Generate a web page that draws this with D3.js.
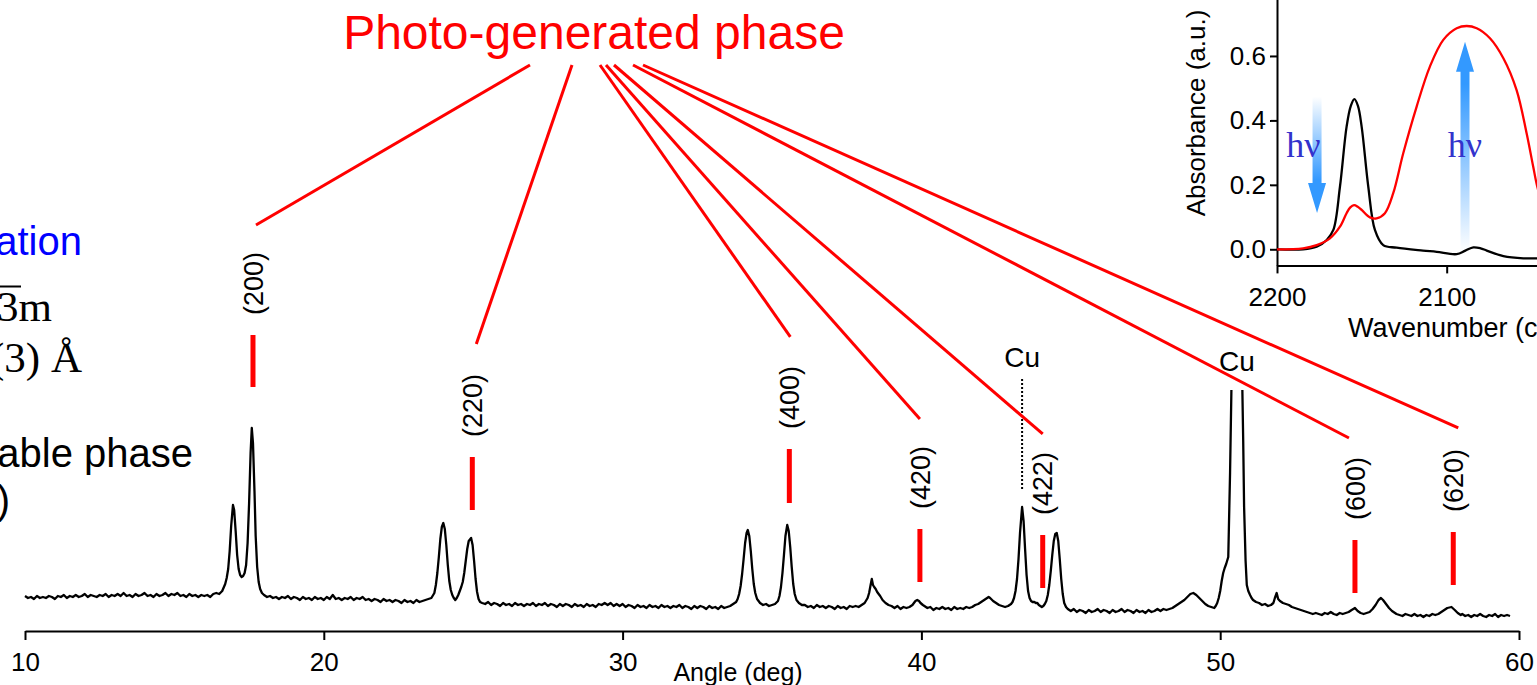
<!DOCTYPE html>
<html>
<head>
<meta charset="utf-8">
<script src="https://cdn.jsdelivr.net/npm/d3@7"></script>
<style>
  html, body { margin: 0; padding: 0; background: #fff; overflow: hidden; }
  svg { display: block; }
  text { font-family: "Liberation Sans", Arial, Helvetica, sans-serif; }
  .serif { font-family: "Liberation Serif", "Times New Roman", serif; }
</style>
</head>
<body>
<svg id="chart" width="1537" height="685"></svg>
<script>
// ---------------- XRD pattern: [2θ (deg), intensity (counts, arb.)] ----------------
const pattern = [
  [10.0,35],[10.1,33],[10.2,34],[10.3,32],[10.4,35],[10.5,33],[10.6,34],[10.7,33],[10.8,35],[10.9,34],
  [11.0,32],[11.1,35],[11.2,34],[11.3,36],[11.4,33],[11.5,35],[11.6,34],[11.7,36],[11.8,34],[11.9,35],
  [12.0,37],[12.1,34],[12.2,36],[12.3,35],[12.4,34],[12.5,36],[12.6,35],[12.7,37],[12.8,34],[12.9,36],
  [13.0,35],[13.1,37],[13.2,35],[13.3,38],[13.4,35],[13.5,36],[13.6,34],[13.7,37],[13.8,35],[13.9,36],
  [14.0,38],[14.1,35],[14.2,36],[14.3,34],[14.4,37],[14.5,35],[14.6,36],[14.7,38],[14.8,35],[14.9,37],
  [15.0,36],[15.1,38],[15.2,35],[15.3,36],[15.4,34],[15.5,37],[15.6,35],[15.7,36],[15.8,34],[15.9,36],
  [16.0,35],[16.1,36],[16.2,34],[16.3,37],[16.4,38],
  [16.5,37],[16.6,40],[16.7,47],[16.75,53],[16.8,62],[16.85,80],[16.9,105],[16.96,126],[17.0,121],
  [17.05,100],[17.1,76],[17.15,62],[17.2,56],[17.25,54],[17.3,55],[17.35,58],[17.4,66],[17.45,88],
  [17.5,128],[17.55,178],[17.59,203],[17.63,188],[17.68,140],[17.72,95],[17.77,64],[17.82,49],
  [17.87,42],[17.93,38],[18.0,36],
  [18.1,34],[18.2,35],[18.3,33],[18.4,34],[18.5,32],[18.6,34],[18.7,33],[18.8,35],[18.9,32],
  [19.0,34],[19.1,33],[19.2,31],[19.3,34],[19.4,32],[19.5,33],[19.6,31],[19.7,34],[19.8,32],[19.9,33],
  [20.0,31],[20.1,34],[20.2,32],[20.3,36],[20.4,32],[20.5,33],[20.6,31],[20.7,33],[20.8,32],[20.9,34],
  [21.0,31],[21.1,33],[21.2,32],[21.3,34],[21.4,31],[21.5,32],[21.6,30],[21.7,32],[21.8,31],[21.9,29],
  [22.0,32],[22.1,30],[22.2,31],[22.3,29],[22.4,31],[22.5,30],[22.6,28],[22.7,31],[22.8,29],[22.9,30],
  [23.0,28],[23.1,31],[23.2,29],[23.3,30],[23.4,31],[23.5,32],
  [23.6,33],[23.7,38],[23.75,46],[23.8,58],[23.85,74],[23.9,92],[23.95,104],[24.0,108],[24.05,102],
  [24.1,86],[24.15,66],[24.2,50],[24.25,41],[24.3,36],[24.35,33],[24.4,31],[24.45,33],[24.5,36],
  [24.55,40],[24.6,44],[24.65,49],[24.7,58],[24.75,70],[24.8,82],[24.85,90],[24.93,93],[24.98,86],
  [25.03,70],[25.08,52],[25.13,39],[25.18,32],[25.23,29],
  [25.3,28],[25.4,27],[25.5,29],[25.6,26],[25.7,28],[25.8,27],[25.9,25],[26.0,28],[26.1,26],[26.2,27],
  [26.3,25],[26.4,28],[26.5,26],[26.6,27],[26.7,25],[26.8,27],[26.9,26],[27.0,28],[27.1,25],[27.2,27],
  [27.3,26],[27.4,28],[27.5,25],[27.6,27],[27.7,26],[27.8,24],[27.9,27],[28.0,25],[28.1,27],[28.2,26],
  [28.3,24],[28.4,27],[28.5,25],[28.6,26],[28.7,24],[28.8,27],[28.9,25],[29.0,26],[29.1,24],[29.2,27],
  [29.3,26],[29.4,28],[29.5,26],[29.6,28],[29.7,25],[29.8,27],[29.9,25],[30.0,27],[30.1,24],[30.2,26],
  [30.3,25],[30.4,23],[30.5,26],[30.6,24],[30.7,25],[30.8,23],[30.9,26],[31.0,24],[31.1,25],[31.2,23],
  [31.3,26],[31.4,24],[31.5,25],[31.6,23],[31.7,25],[31.8,24],[31.9,26],[32.0,23],[32.1,25],[32.2,24],
  [32.3,22],[32.4,25],[32.5,23],[32.6,25],[32.7,24],[32.8,22],[32.9,25],[33.0,23],[33.1,24],[33.2,22],
  [33.3,25],[33.4,23],[33.5,24],[33.6,25],[33.7,27],
  [33.8,29],[33.85,32],[33.9,37],[33.95,45],[34.0,57],[34.05,72],[34.1,88],[34.15,98],[34.19,101],
  [34.24,95],[34.29,80],[34.34,62],[34.39,47],[34.44,38],[34.5,32],[34.6,28],[34.7,26],[34.8,27],
  [34.9,25],[35.0,26],[35.1,27],[35.2,30],[35.25,35],[35.3,44],[35.35,58],[35.4,76],[35.45,95],
  [35.51,106],[35.56,100],[35.61,84],[35.66,64],[35.71,47],[35.76,37],[35.82,31],[35.9,28],[36.0,26],
  [36.1,26],[36.2,24],[36.3,25],[36.4,23],[36.5,26],[36.6,24],[36.7,25],[36.8,23],[36.9,25],[37.0,24],
  [37.1,22],[37.2,25],[37.3,23],[37.4,24],[37.5,22],[37.6,25],[37.7,24],[37.8,25],[37.9,24],[38.0,26],
  [38.1,28],[38.2,33],[38.25,38],[38.3,46],[38.34,52],[38.38,46],[38.42,44],[38.47,42],[38.52,39],
  [38.57,37],[38.62,35],[38.7,31],[38.8,28],[38.9,26],[39.0,25],[39.1,23],[39.2,25],[39.3,22],
  [39.4,24],[39.5,23],[39.6,24],[39.7,26],[39.75,28],[39.8,30],[39.86,31],[39.92,30],[39.97,28],
  [40.05,26],[40.1,25],[40.2,23],[40.3,24],[40.4,21],[40.5,23],[40.6,22],[40.7,24],[40.8,22],
  [40.9,23],[41.0,21],[41.1,24],[41.2,22],[41.3,23],[41.4,22],[41.5,24],[41.6,23],[41.7,24],
  [41.8,26],[41.9,27],[42.0,29],[42.1,31],[42.2,33],[42.25,34],[42.3,33],[42.4,30],[42.5,28],
  [42.6,26],[42.7,25],[42.8,24],[42.9,25],[43.0,27],[43.05,29],[43.1,33],[43.15,40],[43.2,52],
  [43.25,72],[43.3,98],[43.37,124],[43.42,110],[43.47,82],[43.52,56],[43.57,40],[43.62,33],
  [43.67,30],[43.72,29],[43.78,29],[43.83,28],[43.88,28],[43.93,26],[43.98,25],[44.03,24],
  [44.08,25],[44.13,27],[44.18,30],[44.23,36],[44.28,46],[44.33,60],[44.38,76],[44.43,90],
  [44.48,97],[44.53,98],[44.58,90],[44.63,72],[44.68,52],[44.73,37],[44.78,28],[44.84,24],
  [44.9,22],[44.95,21],
  [45.0,20],[45.1,22],[45.2,19],[45.3,21],[45.4,20],[45.5,18],[45.6,21],[45.7,19],[45.8,20],[45.9,22],
  [46.0,19],[46.1,21],[46.2,20],[46.3,18],[46.4,21],[46.5,19],[46.6,20],[46.7,22],[46.8,19],[46.9,21],
  [47.0,20],[47.1,18],[47.2,21],[47.3,19],[47.4,20],[47.5,18],[47.6,21],[47.7,19],[47.8,20],[47.9,22],
  [48.0,20],[48.1,22],[48.2,21],[48.3,22],[48.4,23],[48.5,25],[48.6,27],[48.7,29],[48.8,31],[48.9,34],
  [49.0,37],[49.1,38],[49.2,36],[49.3,33],[49.4,30],[49.5,27],[49.6,25],[49.7,24],[49.8,23],
  [49.85,25],[49.9,28],[49.95,33],[50.0,40],[50.05,50],[50.1,58],[50.15,63],[50.2,67],[50.27,74],
  [50.33,158],[50.38,250],[50.45,380],[50.55,430],[50.65,380],[50.72,280],[50.77,190],[50.8,124],
  [50.85,70],[50.89,46],[50.94,40],[51.0,36],[51.05,33],[51.1,31],[51.2,29],[51.3,28],[51.4,26],
  [51.5,27],[51.6,25],[51.7,26],[51.78,28],[51.83,33],[51.89,38],[51.94,32],[52.0,30],[52.1,28],
  [52.2,27],[52.3,26],[52.4,24],[52.5,23],[52.6,22],[52.7,21],[52.8,20],[52.9,19],
  [53.0,18],[53.1,17],[53.2,18],[53.3,17],[53.4,16],[53.5,18],[53.6,17],[53.7,19],[53.8,17],[53.9,16],
  [54.0,18],[54.1,17],[54.2,18],[54.3,19],[54.4,21],[54.51,23],[54.6,20],[54.7,18],[54.8,17],
  [54.9,18],[55.0,19],[55.1,22],[55.2,26],[55.3,31],[55.38,33],[55.45,31],[55.55,27],[55.65,23],
  [55.75,20],[55.85,18],[55.9,17],[56.0,16],[56.1,15],[56.2,17],[56.3,16],[56.4,15],[56.5,17],
  [56.6,15],[56.7,16],[56.8,14],[56.9,16],[57.0,15],[57.1,17],[57.2,16],[57.3,17],[57.4,19],
  [57.5,21],[57.6,23],[57.74,24],[57.85,21],[57.95,18],[58.05,16],[58.1,17],[58.2,15],[58.3,16],
  [58.4,14],[58.5,16],[58.6,15],[58.7,17],[58.8,15],[58.9,14],[59.0,16],[59.1,15],[59.2,17],
  [59.3,14],[59.4,16],[59.5,15],[59.6,16],[59.7,15]
];

const angleTicks = [10, 20, 30, 40, 50, 60];

// Reflections of the photo-generated phase: Miller indices, 2θ, marker span (counts)
const hklLabels  = ["(200)", "(220)", "(400)", "(420)", "(422)", "(600)", "(620)"];
const hklAngles  = [17.63, 24.97, 35.58, 39.95, 44.06, 54.51, 57.80];
const hklTop     = [296, 174, 182, 102, 96, 91, 99];
const hklBottom  = [244, 121, 128, 49, 43, 38, 46];

// Copper substrate reflections
const cuAngles = [43.37, 50.56];

// ---------------- IR inset: [wavenumber (cm-1), absorbance (a.u.)] ----------------
const irBefore = [
  [2200,0.000],[2184.6,0.000],[2176.6,0.008],[2170.7,0.029],[2166.8,0.060],[2162.9,0.194],
  [2159.0,0.380],[2156.5,0.445],[2154.4,0.466],[2152.3,0.445],[2150.1,0.380],[2146.2,0.194],
  [2142.3,0.060],[2137.4,0.013],[2129.5,0.005],[2114.0,-0.004],[2105.9,-0.008],[2094.1,-0.015],
  [2089.0,-0.004],[2084.3,0.006],[2080.0,0.003],[2076.4,-0.004],[2066.6,-0.021],[2054.8,-0.028],
  [2046.6,-0.028],[2040,-0.029]
];
const irAfter = [
  [2200,0.000],[2184.6,0.003],[2176.6,0.013],[2168.8,0.034],[2162.9,0.070],[2159.0,0.112],
  [2156.8,0.130],[2154.6,0.137],[2152.4,0.132],[2150.1,0.122],[2145.2,0.099],[2141.3,0.096],
  [2136.4,0.112],[2131.5,0.174],[2125.6,0.298],[2117.7,0.443],[2109.9,0.567],[2102.0,0.650],
  [2094.1,0.686],[2088.2,0.693],[2082.3,0.686],[2074.5,0.655],[2066.6,0.593],[2058.8,0.494],
  [2052.9,0.360],[2049.0,0.256],[2046.6,0.194],[2043,0.130],[2040,0.090]
];
const irAbsTicks = [0.0, 0.2, 0.4, 0.6, 0.8];
const irWnTicks = [2200, 2100];

// Illumination arrows: [wavenumber, absorbance at tail, absorbance at tip]
const lightArrows = [
  [2176.4, 0.474, 0.113],
  [2089.2, -0.011, 0.644]
];

// ---------------- drawing ----------------
const W = 1537, H = 685;
const RED = "#ff0000";
const svg = d3.select("#chart");
svg.append("rect").attr("width", W).attr("height", H).attr("fill", "#fff");
const defs = svg.append("defs");

const x = d3.scaleLinear().domain([10, 60]).range([25, 1519]);
const y = d3.scaleLinear().domain([0, 250]).range([631, 381]);

// clip so the strong Cu peak is cut at the top of the plot area
defs.append("clipPath").attr("id", "plotClip")
  .append("rect").attr("x", 0).attr("y", 390).attr("width", W).attr("height", 260);

// bottom axis
const gx = svg.append("g")
  .attr("transform", `translate(0,${y(0)})`)
  .call(d3.axisBottom(x).tickValues(angleTicks).tickFormat(d3.format("d"))
    .tickSize(9).tickSizeOuter(0).tickPadding(13));
gx.attr("font-size", null).attr("font-family", null);
gx.select(".domain").attr("stroke", "#000").attr("stroke-width", 2);
gx.selectAll(".tick line").attr("stroke", "#000").attr("stroke-width", 2);
gx.selectAll(".tick text").attr("font-size", 26).attr("fill", "#000");

svg.append("text").attr("x", 738).attr("y", 681).attr("text-anchor", "middle")
  .attr("font-size", 25).attr("fill", "#000").text("Angle (deg)");

// diffraction trace
svg.append("path").datum(pattern)
  .attr("d", d3.line().x(d => x(d[0])).y(d => y(d[1])))
  .attr("fill", "none").attr("stroke", "#000").attr("stroke-width", 2.3)
  .attr("stroke-linejoin", "round").attr("clip-path", "url(#plotClip)");

// Cu labels
svg.append("line")
  .attr("x1", x(cuAngles[0])).attr("x2", x(cuAngles[0]))
  .attr("y1", 379).attr("y2", 489)
  .attr("stroke", "#000").attr("stroke-width", 2).attr("stroke-dasharray", "2,2");
svg.selectAll("text.cu").data(cuAngles).join("text").attr("class", "cu")
  .attr("x", d => x(d)).attr("y", (d, i) => i === 0 ? 367 : 371)
  .attr("text-anchor", "middle").attr("font-size", 28).attr("fill", "#000").text("Cu");

// reflection markers
svg.selectAll("line.hkl").data(hklAngles).join("line").attr("class", "hkl")
  .attr("x1", d => x(d)).attr("x2", d => x(d))
  .attr("y1", (d, i) => y(hklTop[i])).attr("y2", (d, i) => y(hklBottom[i]))
  .attr("stroke", RED).attr("stroke-width", 5);

const labelGap = 20;
const hklText = svg.selectAll("text.hkl").data(hklLabels).join("text").attr("class", "hkl")
  .attr("transform", (d, i) => `translate(${x(hklAngles[i])},${y(hklTop[i]) - labelGap}) rotate(-90)`)
  .attr("dy", "0.36em").attr("text-anchor", "start")
  .attr("font-size", 27).attr("fill", "#000").text(d => d);

// title and leader lines
svg.append("text").attr("x", 594).attr("y", 49).attr("text-anchor", "middle")
  .attr("font-size", 48).attr("fill", RED).text("Photo-generated phase");

const leaderStartX = [530, 572, 600, 606, 614, 633, 643];
const leaderDx = [3, 4, 1, 0, 0, -6, 5];
const leaderGap = [27, 30, 29, 27, 18, 19, 21];
hklText.each(function (d, i) {
  const len = this.getComputedTextLength();
  const topY = y(hklTop[i]) - labelGap - len;
  svg.append("line")
    .attr("x1", leaderStartX[i]).attr("y1", 65)
    .attr("x2", x(hklAngles[i]) + leaderDx[i]).attr("y2", topY - leaderGap[i])
    .attr("stroke", RED).attr("stroke-width", 3);
});

// side notes (running off the left edge)
svg.append("text").attr("x", 82).attr("y", 255).attr("text-anchor", "end")
  .attr("font-size", 40).attr("fill", "#0000ff").text("ation");
svg.append("text").attr("class", "serif").attr("x", 52).attr("y", 321).attr("text-anchor", "end")
  .attr("font-size", 43).attr("fill", "#000").text("3m");
svg.append("line").attr("x1", 0).attr("x2", 21).attr("y1", 286.5).attr("y2", 286.5)
  .attr("stroke", "#000").attr("stroke-width", 2);
svg.append("text").attr("class", "serif").attr("x", 82).attr("y", 372).attr("text-anchor", "end")
  .attr("font-size", 43).attr("fill", "#000").text("(3) Å");
svg.append("text").attr("x", 193).attr("y", 467).attr("text-anchor", "end")
  .attr("font-size", 40).attr("fill", "#000").text("able phase");
svg.append("text").attr("x", 10).attr("y", 514).attr("text-anchor", "end")
  .attr("font-size", 40).attr("fill", "#000").text(")");

// ---------------- inset ----------------
const ix = d3.scaleLinear().domain([2200, 2040]).range([1277, 1548.5]);
const iy = d3.scaleLinear().domain([-0.05, 0.8]).range([265.4, -8.5]);

const gy = svg.append("g").attr("transform", `translate(${ix(2200)},0)`)
  .call(d3.axisLeft(iy).tickValues(irAbsTicks).tickFormat(d3.format(".1f"))
    .tickSize(7).tickSizeOuter(0).tickPadding(4));
const gix = svg.append("g").attr("transform", `translate(0,${iy(-0.05)})`)
  .call(d3.axisBottom(ix).tickValues(irWnTicks).tickFormat(d3.format("d"))
    .tickSize(8).tickSizeOuter(0).tickPadding(14));
[gy, gix].forEach(g => {
  g.attr("font-size", null).attr("font-family", null);
  g.select(".domain").attr("stroke", "#000").attr("stroke-width", 2);
  g.selectAll(".tick line").attr("stroke", "#000").attr("stroke-width", 2);
  g.selectAll(".tick text").attr("font-size", 26).attr("fill", "#000");
});

svg.append("text").attr("transform", `translate(1205,113) rotate(-90)`)
  .attr("text-anchor", "middle").attr("font-size", 26).attr("fill", "#000")
  .text("Absorbance (a.u.)");
svg.append("text").attr("x", 1348).attr("y", 337).attr("font-size", 27).attr("fill", "#000")
  .text("Wavenumber (cm\u207B\u00B9)");

// illumination arrows with fading shafts
const gradDown = defs.append("linearGradient").attr("id", "fadeDown")
  .attr("x1", 0).attr("y1", 0).attr("x2", 0).attr("y2", 1);
gradDown.append("stop").attr("offset", 0).attr("stop-color", "#3399ff").attr("stop-opacity", 0);
gradDown.append("stop").attr("offset", 0.72).attr("stop-color", "#3399ff").attr("stop-opacity", 1);
const gradUp = defs.append("linearGradient").attr("id", "fadeUp")
  .attr("x1", 0).attr("y1", 1).attr("x2", 0).attr("y2", 0);
gradUp.append("stop").attr("offset", 0).attr("stop-color", "#3399ff").attr("stop-opacity", 0);
gradUp.append("stop").attr("offset", 0.8).attr("stop-color", "#3399ff").attr("stop-opacity", 1);

function arrowPath(cx, yTail, yTip) {
  const dir = yTip > yTail ? 1 : -1;
  const head = 30, hw = 9, sw = 4.5;
  const yNeck = yTip - dir * head;
  return `M${cx - sw},${yTail} L${cx + sw},${yTail} L${cx + sw},${yNeck} L${cx + hw},${yNeck} ` +
         `L${cx},${yTip} L${cx - hw},${yNeck} L${cx - sw},${yNeck} Z`;
}
svg.selectAll("path.light").data(lightArrows).join("path").attr("class", "light")
  .attr("d", d => arrowPath(ix(d[0]), iy(d[1]), iy(d[2])))
  .attr("fill", d => d[2] < d[1] ? "url(#fadeDown)" : "url(#fadeUp)");

// spectra
const irLine = d3.line().x(d => ix(d[0])).y(d => iy(d[1])).curve(d3.curveCatmullRom.alpha(0.5));
svg.append("path").datum(irBefore).attr("d", irLine)
  .attr("fill", "none").attr("stroke", "#000").attr("stroke-width", 2.3);
svg.append("path").datum(irAfter).attr("d", irLine)
  .attr("fill", "none").attr("stroke", RED).attr("stroke-width", 2.3);

// hν labels
svg.selectAll("text.hv").data([2184.4, 2089.2]).join("text").attr("class", "hv serif")
  .attr("x", d => ix(d)).attr("y", 157).attr("text-anchor", "middle")
  .attr("font-size", 36).attr("fill", "#3333cc").text("h\u03BD");
</script>
</body>
</html>
